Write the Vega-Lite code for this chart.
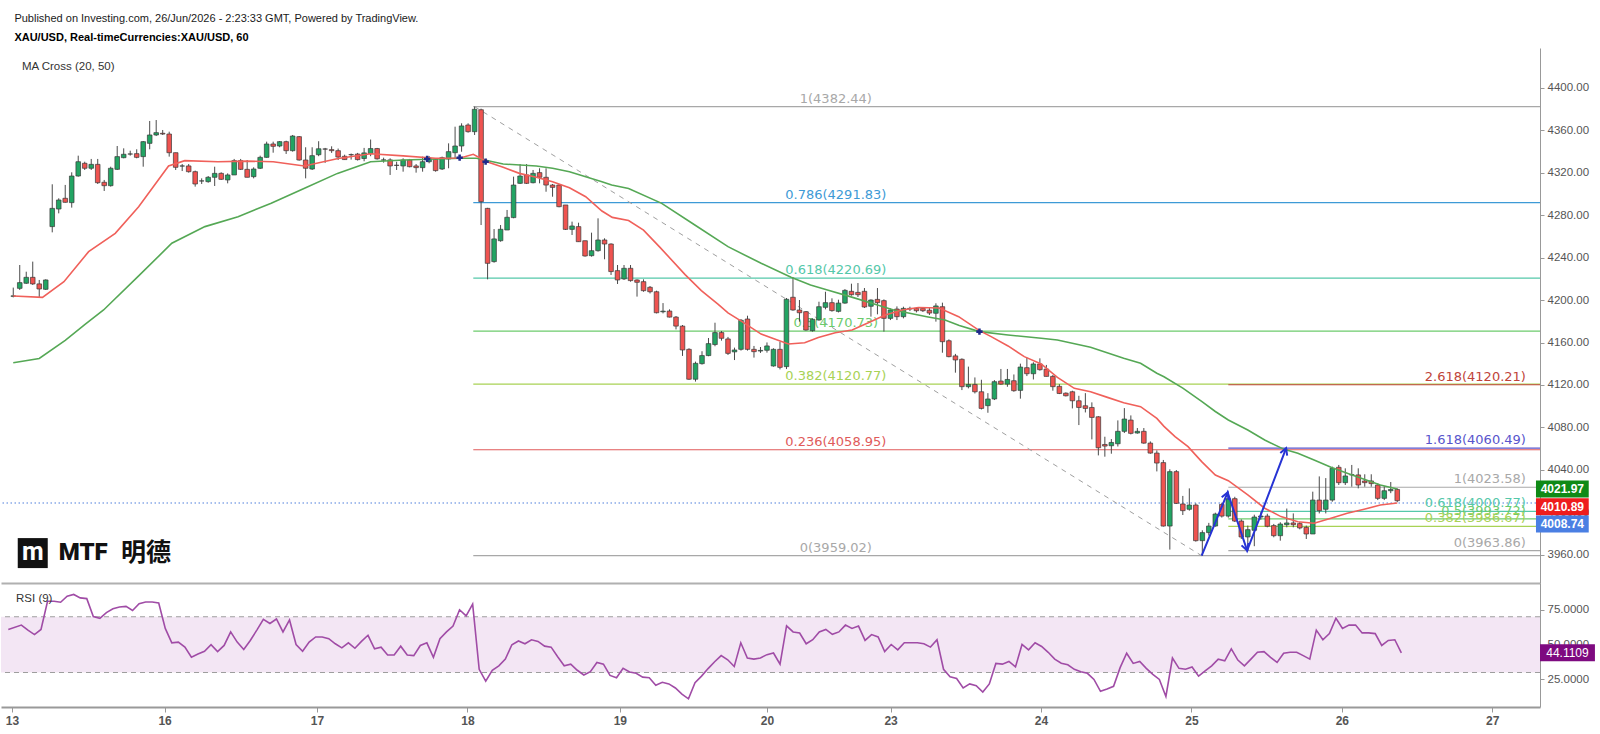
{
"$schema": "https://vega.github.io/schema/vega-lite/v6.json",
"background": "white",
"padding": {"left": 0, "top": 13, "right": 0, "bottom": 0},
"title": {"text": "Published on Investing.com, 26/Jun/2026 - 2:23:33 GMT, Powered by TradingView.", "subtitle": "XAU/USD, Real-timeCurrencies:XAU/USD, 60", "anchor": "start", "frame": "bounds", "dx": 14, "offset": 5, "font": "Liberation Sans", "fontSize": 11, "fontWeight": "normal", "color": "#1a1a1a", "subtitleFont": "Liberation Sans", "subtitleFontSize": 11, "subtitleFontWeight": "bold", "subtitleColor": "#000000", "subtitlePadding": 8},
"spacing": 0,
"resolve": {"scale": {"x": "independent", "y": "independent"}},
"config": {"view": {"stroke": null}, "axis": {"grid": false, "labelFont": "Liberation Sans", "labelFontSize": 11.5, "labelColor": "#555555", "tickColor": "#999999", "domainColor": "#999999", "tickSize": 4, "labelPadding": 3, "labelFlush": false, "labelOverlap": false}},
"datasets": {
"candles": [
{"i":0,"o":4203.6,"h":4211.8,"l":4202.6,"c":4204.0},
{"i":1,"o":4211.1,"h":4233.1,"l":4209.6,"c":4216.5},
{"i":2,"o":4215.9,"h":4226.8,"l":4215.3,"c":4221.5},
{"i":3,"o":4221.5,"h":4236.3,"l":4214.3,"c":4215.3},
{"i":4,"o":4215.3,"h":4219.0,"l":4202.6,"c":4210.5},
{"i":5,"o":4210.2,"h":4219.6,"l":4209.6,"c":4219.0},
{"i":6,"o":4269.3,"h":4309.2,"l":4263.9,"c":4286.5},
{"i":7,"o":4285.9,"h":4296.0,"l":4281.8,"c":4294.4},
{"i":8,"o":4296.0,"h":4308.6,"l":4291.9,"c":4292.2},
{"i":9,"o":4291.9,"h":4320.5,"l":4287.2,"c":4317.0},
{"i":10,"o":4317.0,"h":4336.2,"l":4316.4,"c":4330.5},
{"i":11,"o":4329.0,"h":4330.5,"l":4322.7,"c":4324.3},
{"i":12,"o":4324.3,"h":4333.1,"l":4322.7,"c":4328.0},
{"i":13,"o":4328.0,"h":4333.1,"l":4309.5,"c":4310.7},
{"i":14,"o":4311.1,"h":4313.3,"l":4302.9,"c":4307.9},
{"i":15,"o":4307.9,"h":4325.8,"l":4307.0,"c":4324.3},
{"i":16,"o":4323.3,"h":4345.3,"l":4322.7,"c":4335.3},
{"i":17,"o":4334.3,"h":4343.1,"l":4333.7,"c":4337.5},
{"i":18,"o":4337.7,"h":4340.9,"l":4336.2,"c":4337.8},
{"i":19,"o":4338.1,"h":4342.2,"l":4333.7,"c":4334.6},
{"i":20,"o":4335.3,"h":4350.0,"l":4325.8,"c":4349.4},
{"i":21,"o":4347.8,"h":4368.9,"l":4342.2,"c":4355.7},
{"i":22,"o":4355.7,"h":4369.8,"l":4354.7,"c":4357.9},
{"i":23,"o":4357.3,"h":4360.4,"l":4355.7,"c":4356.6},
{"i":24,"o":4356.6,"h":4358.8,"l":4335.3,"c":4339.0},
{"i":25,"o":4339.0,"h":4339.0,"l":4322.7,"c":4325.2},
{"i":26,"o":4326.4,"h":4328.3,"l":4321.7,"c":4326.5},
{"i":27,"o":4326.5,"h":4328.3,"l":4320.2,"c":4321.1},
{"i":28,"o":4321.1,"h":4322.1,"l":4307.0,"c":4309.5},
{"i":29,"o":4312.3,"h":4314.8,"l":4309.5,"c":4312.4},
{"i":30,"o":4311.7,"h":4317.0,"l":4310.7,"c":4315.8},
{"i":31,"o":4315.8,"h":4325.8,"l":4307.6,"c":4319.5},
{"i":32,"o":4319.5,"h":4320.5,"l":4313.3,"c":4313.9},
{"i":33,"o":4313.3,"h":4319.5,"l":4310.1,"c":4318.0},
{"i":34,"o":4318.0,"h":4333.1,"l":4318.0,"c":4331.5},
{"i":35,"o":4331.5,"h":4333.1,"l":4322.7,"c":4323.3},
{"i":36,"o":4323.3,"h":4332.1,"l":4315.8,"c":4315.8},
{"i":37,"o":4316.4,"h":4325.2,"l":4314.8,"c":4323.6},
{"i":38,"o":4324.3,"h":4336.2,"l":4323.6,"c":4334.6},
{"i":39,"o":4334.6,"h":4349.4,"l":4334.3,"c":4347.2},
{"i":40,"o":4347.2,"h":4349.4,"l":4339.0,"c":4345.0},
{"i":41,"o":4345.3,"h":4350.0,"l":4344.1,"c":4349.4},
{"i":42,"o":4349.4,"h":4350.3,"l":4337.8,"c":4340.9},
{"i":43,"o":4340.9,"h":4355.7,"l":4340.0,"c":4354.7},
{"i":44,"o":4354.1,"h":4354.7,"l":4331.5,"c":4332.1},
{"i":45,"o":4332.1,"h":4344.1,"l":4314.8,"c":4324.3},
{"i":46,"o":4323.6,"h":4344.1,"l":4322.7,"c":4336.2},
{"i":47,"o":4337.1,"h":4349.8,"l":4335.7,"c":4342.7},
{"i":48,"o":4342.5,"h":4343.5,"l":4329.4,"c":4342.4},
{"i":49,"o":4341.9,"h":4345.0,"l":4338.8,"c":4340.9},
{"i":50,"o":4340.9,"h":4342.9,"l":4332.1,"c":4334.9},
{"i":51,"o":4335.6,"h":4337.1,"l":4332.5,"c":4332.5},
{"i":52,"o":4337.0,"h":4338.2,"l":4332.5,"c":4337.2},
{"i":53,"o":4337.7,"h":4338.8,"l":4331.6,"c":4332.5},
{"i":54,"o":4333.5,"h":4343.5,"l":4330.9,"c":4338.8},
{"i":55,"o":4338.2,"h":4351.4,"l":4335.7,"c":4342.9},
{"i":56,"o":4342.9,"h":4343.5,"l":4332.5,"c":4333.2},
{"i":57,"o":4332.0,"h":4334.3,"l":4329.6,"c":4332.2},
{"i":58,"o":4332.2,"h":4333.7,"l":4318.0,"c":4326.5},
{"i":59,"o":4327.2,"h":4330.5,"l":4322.7,"c":4327.0},
{"i":60,"o":4326.5,"h":4333.7,"l":4321.1,"c":4332.1},
{"i":61,"o":4332.1,"h":4333.1,"l":4325.2,"c":4325.8},
{"i":62,"o":4326.5,"h":4328.3,"l":4320.2,"c":4324.9},
{"i":63,"o":4324.9,"h":4335.3,"l":4321.1,"c":4330.5},
{"i":64,"o":4330.5,"h":4335.9,"l":4329.0,"c":4333.7},
{"i":65,"o":4332.7,"h":4333.7,"l":4321.1,"c":4322.1},
{"i":66,"o":4323.6,"h":4335.3,"l":4322.7,"c":4334.3},
{"i":67,"o":4333.1,"h":4347.8,"l":4324.3,"c":4340.0},
{"i":68,"o":4339.0,"h":4363.5,"l":4333.7,"c":4345.3},
{"i":69,"o":4345.3,"h":4366.7,"l":4339.9,"c":4364.2},
{"i":70,"o":4365.1,"h":4366.7,"l":4357.9,"c":4358.8},
{"i":71,"o":4358.8,"h":4382.44,"l":4355.7,"c":4379.9},
{"i":72,"o":4379.5,"h":4380.5,"l":4270.8,"c":4292.8},
{"i":73,"o":4286.5,"h":4287.0,"l":4219.6,"c":4234.7},
{"i":74,"o":4236.3,"h":4267.0,"l":4235.3,"c":4257.7},
{"i":75,"o":4256.0,"h":4270.8,"l":4255.1,"c":4266.8},
{"i":76,"o":4266.1,"h":4285.0,"l":4266.1,"c":4278.1},
{"i":77,"o":4277.8,"h":4316.4,"l":4277.2,"c":4308.5},
{"i":78,"o":4310.1,"h":4328.3,"l":4309.5,"c":4317.0},
{"i":79,"o":4318.0,"h":4328.3,"l":4309.5,"c":4310.1},
{"i":80,"o":4310.7,"h":4322.7,"l":4310.1,"c":4319.5},
{"i":81,"o":4320.2,"h":4324.3,"l":4310.1,"c":4315.8},
{"i":82,"o":4315.8,"h":4324.3,"l":4302.2,"c":4308.5},
{"i":83,"o":4308.5,"h":4309.5,"l":4297.5,"c":4306.3},
{"i":84,"o":4308.5,"h":4309.5,"l":4287.5,"c":4288.1},
{"i":85,"o":4289.7,"h":4289.7,"l":4266.1,"c":4266.7},
{"i":86,"o":4266.7,"h":4274.0,"l":4261.4,"c":4269.9},
{"i":87,"o":4269.3,"h":4273.0,"l":4255.1,"c":4255.1},
{"i":88,"o":4256.0,"h":4256.0,"l":4241.0,"c":4241.6},
{"i":89,"o":4241.9,"h":4263.6,"l":4241.0,"c":4246.6},
{"i":90,"o":4246.6,"h":4277.1,"l":4245.7,"c":4256.7},
{"i":91,"o":4256.7,"h":4258.3,"l":4238.5,"c":4252.9},
{"i":92,"o":4252.9,"h":4253.5,"l":4223.7,"c":4226.9},
{"i":93,"o":4227.8,"h":4233.1,"l":4215.2,"c":4219.0},
{"i":94,"o":4220.0,"h":4233.1,"l":4219.0,"c":4230.0},
{"i":95,"o":4230.0,"h":4233.1,"l":4217.4,"c":4218.4},
{"i":96,"o":4219.0,"h":4219.6,"l":4203.3,"c":4216.8},
{"i":97,"o":4217.4,"h":4219.6,"l":4207.9,"c":4208.9},
{"i":98,"o":4212.1,"h":4213.3,"l":4206.3,"c":4207.9},
{"i":99,"o":4207.9,"h":4208.9,"l":4187.5,"c":4188.1},
{"i":100,"o":4189.0,"h":4197.2,"l":4187.5,"c":4189.6},
{"i":101,"o":4189.7,"h":4191.3,"l":4183.7,"c":4184.0},
{"i":102,"o":4184.0,"h":4185.0,"l":4172.4,"c":4175.5},
{"i":103,"o":4175.5,"h":4176.5,"l":4147.4,"c":4153.0},
{"i":104,"o":4153.6,"h":4154.6,"l":4124.8,"c":4125.4},
{"i":105,"o":4125.4,"h":4142.0,"l":4123.2,"c":4140.4},
{"i":106,"o":4140.1,"h":4151.8,"l":4139.2,"c":4147.7},
{"i":107,"o":4147.7,"h":4164.3,"l":4147.1,"c":4159.0},
{"i":108,"o":4158.1,"h":4178.7,"l":4156.5,"c":4169.4},
{"i":109,"o":4169.4,"h":4170.9,"l":4161.8,"c":4164.0},
{"i":110,"o":4163.4,"h":4165.3,"l":4148.3,"c":4149.8},
{"i":111,"o":4151.2,"h":4155.2,"l":4143.5,"c":4153.0},
{"i":112,"o":4153.6,"h":4182.2,"l":4152.4,"c":4181.0},
{"i":113,"o":4182.2,"h":4185.3,"l":4152.4,"c":4153.6},
{"i":114,"o":4153.6,"h":4156.8,"l":4145.8,"c":4151.4},
{"i":115,"o":4152.0,"h":4155.8,"l":4150.2,"c":4152.6},
{"i":116,"o":4152.7,"h":4160.1,"l":4150.5,"c":4156.8},
{"i":117,"o":4137.9,"h":4154.6,"l":4137.3,"c":4153.6},
{"i":118,"o":4153.6,"h":4160.8,"l":4134.7,"c":4136.6},
{"i":119,"o":4137.3,"h":4202.0,"l":4135.0,"c":4200.8},
{"i":120,"o":4202.7,"h":4221.5,"l":4190.0,"c":4190.7},
{"i":121,"o":4190.7,"h":4200.1,"l":4179.7,"c":4188.1},
{"i":122,"o":4189.1,"h":4189.7,"l":4171.2,"c":4171.8},
{"i":123,"o":4171.2,"h":4182.8,"l":4170.3,"c":4181.9},
{"i":124,"o":4181.3,"h":4198.5,"l":4180.6,"c":4193.8},
{"i":125,"o":4193.2,"h":4207.9,"l":4191.3,"c":4197.6},
{"i":126,"o":4197.6,"h":4201.7,"l":4189.1,"c":4190.1},
{"i":127,"o":4189.4,"h":4200.4,"l":4188.4,"c":4197.2},
{"i":128,"o":4197.2,"h":4210.4,"l":4196.6,"c":4209.2},
{"i":129,"o":4208.3,"h":4215.5,"l":4204.2,"c":4205.1},
{"i":130,"o":4207.3,"h":4216.1,"l":4202.9,"c":4205.1},
{"i":131,"o":4208.3,"h":4211.4,"l":4192.6,"c":4193.5},
{"i":132,"o":4194.2,"h":4200.7,"l":4184.4,"c":4200.1},
{"i":133,"o":4200.7,"h":4211.4,"l":4186.6,"c":4197.6},
{"i":134,"o":4199.5,"h":4200.7,"l":4170.3,"c":4182.8},
{"i":135,"o":4182.8,"h":4192.2,"l":4181.2,"c":4190.7},
{"i":136,"o":4191.6,"h":4194.1,"l":4181.2,"c":4184.4},
{"i":137,"o":4184.4,"h":4193.8,"l":4182.8,"c":4192.2},
{"i":138,"o":4191.6,"h":4193.8,"l":4189.7,"c":4192.2},
{"i":139,"o":4192.2,"h":4193.2,"l":4188.4,"c":4190.0},
{"i":140,"o":4192.2,"h":4193.5,"l":4188.8,"c":4190.0},
{"i":141,"o":4190.5,"h":4193.0,"l":4186.0,"c":4187.8},
{"i":142,"o":4187.6,"h":4197.0,"l":4179.7,"c":4194.5},
{"i":143,"o":4193.8,"h":4197.6,"l":4150.4,"c":4160.8},
{"i":144,"o":4161.7,"h":4163.0,"l":4146.1,"c":4146.7},
{"i":145,"o":4147.4,"h":4149.3,"l":4131.6,"c":4143.6},
{"i":146,"o":4144.2,"h":4145.1,"l":4115.2,"c":4118.4},
{"i":147,"o":4118.4,"h":4137.3,"l":4116.8,"c":4120.5},
{"i":148,"o":4120.5,"h":4127.1,"l":4112.0,"c":4113.6},
{"i":149,"o":4113.6,"h":4124.9,"l":4096.9,"c":4097.9},
{"i":150,"o":4100.5,"h":4112.3,"l":4093.8,"c":4106.8},
{"i":151,"o":4106.8,"h":4124.6,"l":4105.8,"c":4123.1},
{"i":152,"o":4123.7,"h":4135.1,"l":4120.2,"c":4120.8},
{"i":153,"o":4120.8,"h":4135.1,"l":4118.3,"c":4125.2},
{"i":154,"o":4124.0,"h":4129.9,"l":4113.6,"c":4114.6},
{"i":155,"o":4114.9,"h":4140.1,"l":4107.1,"c":4136.9},
{"i":156,"o":4136.3,"h":4145.8,"l":4128.4,"c":4130.6},
{"i":157,"o":4130.6,"h":4141.4,"l":4125.2,"c":4139.8},
{"i":158,"o":4139.8,"h":4145.1,"l":4133.5,"c":4134.4},
{"i":159,"o":4135.0,"h":4138.9,"l":4128.1,"c":4128.1},
{"i":160,"o":4128.1,"h":4129.4,"l":4114.6,"c":4118.4},
{"i":161,"o":4118.7,"h":4120.8,"l":4111.4,"c":4112.0},
{"i":162,"o":4112.3,"h":4113.0,"l":4109.2,"c":4109.8},
{"i":163,"o":4113.6,"h":4114.6,"l":4097.9,"c":4105.1},
{"i":164,"o":4105.1,"h":4109.8,"l":4082.2,"c":4098.8},
{"i":165,"o":4100.4,"h":4112.3,"l":4094.1,"c":4097.9},
{"i":166,"o":4098.8,"h":4103.6,"l":4068.7,"c":4089.4},
{"i":167,"o":4090.0,"h":4090.6,"l":4053.6,"c":4060.8},
{"i":168,"o":4063.9,"h":4071.2,"l":4052.4,"c":4062.4},
{"i":169,"o":4062.7,"h":4069.0,"l":4055.2,"c":4065.8},
{"i":170,"o":4064.6,"h":4086.6,"l":4062.0,"c":4076.3},
{"i":171,"o":4076.3,"h":4098.2,"l":4074.7,"c":4087.9},
{"i":172,"o":4086.9,"h":4091.3,"l":4073.4,"c":4074.4},
{"i":173,"o":4074.7,"h":4079.4,"l":4074.1,"c":4076.3},
{"i":174,"o":4076.3,"h":4079.4,"l":4064.6,"c":4065.2},
{"i":175,"o":4065.2,"h":4066.8,"l":4055.2,"c":4055.8},
{"i":176,"o":4055.8,"h":4058.3,"l":4038.5,"c":4046.4},
{"i":177,"o":4046.8,"h":4049.3,"l":3986.5,"c":3987.0},
{"i":178,"o":3987.0,"h":4040.5,"l":3964.8,"c":4038.3},
{"i":179,"o":4038.3,"h":4039.8,"l":4007.8,"c":4008.4},
{"i":180,"o":4007.8,"h":4015.4,"l":3997.4,"c":4001.5},
{"i":181,"o":4002.8,"h":4022.5,"l":4001.5,"c":4006.8},
{"i":182,"o":4006.8,"h":4008.4,"l":3972.3,"c":3973.2},
{"i":183,"o":3973.2,"h":3983.0,"l":3959.02,"c":3980.8},
{"i":184,"o":3980.8,"h":3990.0,"l":3978.0,"c":3987.0},
{"i":185,"o":3987.0,"h":3999.6,"l":3986.4,"c":3998.3},
{"i":186,"o":4007.4,"h":4009.0,"l":3995.0,"c":3996.4},
{"i":187,"o":3996.4,"h":4018.74,"l":3994.9,"c":4012.8},
{"i":188,"o":4012.8,"h":4014.6,"l":3990.8,"c":3991.7},
{"i":189,"o":3991.7,"h":3993.3,"l":3974.8,"c":3976.7},
{"i":190,"o":3976.7,"h":3987.4,"l":3963.86,"c":3983.6},
{"i":191,"o":3983.0,"h":3997.7,"l":3968.0,"c":3995.5},
{"i":192,"o":3995.5,"h":4000.0,"l":3993.0,"c":3996.4},
{"i":193,"o":3996.4,"h":3998.6,"l":3985.8,"c":3986.8},
{"i":194,"o":3987.4,"h":3989.0,"l":3976.4,"c":3977.9},
{"i":195,"o":3977.9,"h":3990.6,"l":3973.2,"c":3988.9},
{"i":196,"o":3988.3,"h":4003.5,"l":3985.8,"c":3989.9},
{"i":197,"o":3989.9,"h":3998.9,"l":3985.8,"c":3988.3},
{"i":198,"o":3989.3,"h":3990.8,"l":3983.9,"c":3985.2},
{"i":199,"o":3985.8,"h":3987.4,"l":3974.8,"c":3979.5},
{"i":200,"o":3979.5,"h":4019.4,"l":3979.5,"c":4011.5},
{"i":201,"o":4011.5,"h":4033.8,"l":3998.9,"c":4001.5},
{"i":202,"o":4002.8,"h":4032.2,"l":3998.9,"c":4011.5},
{"i":203,"o":4011.5,"h":4043.0,"l":4009.9,"c":4041.4},
{"i":204,"o":4042.4,"h":4044.6,"l":4025.7,"c":4027.9},
{"i":205,"o":4027.9,"h":4041.4,"l":4025.7,"c":4034.2},
{"i":206,"o":4035.2,"h":4044.6,"l":4024.1,"c":4035.5},
{"i":207,"o":4035.2,"h":4041.4,"l":4022.5,"c":4025.7},
{"i":208,"o":4029.5,"h":4035.8,"l":4024.1,"c":4027.9},
{"i":209,"o":4029.5,"h":4035.8,"l":4024.1,"c":4027.0},
{"i":210,"o":4025.7,"h":4027.3,"l":4011.5,"c":4013.1},
{"i":211,"o":4013.1,"h":4024.7,"l":4011.5,"c":4020.3},
{"i":212,"o":4020.3,"h":4028.5,"l":4018.0,"c":4021.5},
{"i":213,"o":4021.5,"h":4022.5,"l":4009.5,"c":4010.89}
],
"ma20": [
{"i":0,"p":4203.9},{"i":4.5,"p":4202.6},{"i":7.8,"p":4217.4},{"i":11.6,"p":4245.7},{"i":15.7,"p":4263.0},{"i":19.3,"p":4288.1},{"i":23.9,"p":4326.5},{"i":26.4,"p":4331.5},{"i":31.5,"p":4330.5},{"i":36,"p":4331.0},{"i":40,"p":4330.5},{"i":44.8,"p":4326.5},{"i":50,"p":4333.5},{"i":55,"p":4338.0},{"i":60,"p":4336.0},{"i":65,"p":4333.7},{"i":68.8,"p":4334.0},{"i":70.8,"p":4337.5},{"i":72.9,"p":4330.5},{"i":75.4,"p":4325.2},{"i":77.9,"p":4319.5},{"i":80.5,"p":4315.8},{"i":83,"p":4311.7},{"i":85.6,"p":4306.0},{"i":88.1,"p":4297.5},{"i":90.6,"p":4284.0},{"i":92.2,"p":4278.0},{"i":94.7,"p":4275.0},{"i":97,"p":4266.0},{"i":99.5,"p":4250.0},{"i":103.4,"p":4224.0},{"i":105.9,"p":4209.0},{"i":108.5,"p":4196.0},{"i":110,"p":4188.0},{"i":112.1,"p":4180.0},{"i":115.1,"p":4168.0},{"i":117.6,"p":4162.4},{"i":119.3,"p":4158.6},{"i":121.8,"p":4159.8},{"i":123.9,"p":4164.8},{"i":126.5,"p":4169.2},{"i":129.1,"p":4171.8},{"i":131.6,"p":4178.7},{"i":134.2,"p":4185.9},{"i":136.8,"p":4190.7},{"i":139.3,"p":4193.0},{"i":142.5,"p":4192.5},{"i":145.5,"p":4184.4},{"i":148.7,"p":4171.2},{"i":150.5,"p":4165.6},{"i":153.1,"p":4156.8},{"i":155.6,"p":4146.7},{"i":158.2,"p":4139.8},{"i":160.7,"p":4127.1},{"i":163.3,"p":4116.8},{"i":165.8,"p":4113.6},{"i":168.4,"p":4108.3},{"i":170.9,"p":4103.3},{"i":173.5,"p":4099.5},{"i":176,"p":4088.5},{"i":177.1,"p":4081.0},{"i":178.8,"p":4071.3},{"i":180.8,"p":4061.9},{"i":182.9,"p":4047.7},{"i":185,"p":4035.1},{"i":187,"p":4029.8},{"i":190,"p":4016.3},{"i":192.6,"p":4003.8},{"i":195.1,"p":3995.9},{"i":197.7,"p":3991.1},{"i":200.2,"p":3989.6},{"i":202.8,"p":3994.3},{"i":205.3,"p":3999.0},{"i":207.9,"p":4002.8},{"i":210.4,"p":4006.8},{"i":213,"p":4008.74}
],
"ma50": [
{"i":0,"p":4141.0},{"i":4,"p":4145.0},{"i":8,"p":4162.0},{"i":11,"p":4177.0},{"i":13.9,"p":4190.7},{"i":19.3,"p":4222.8},{"i":24.4,"p":4253.6},{"i":29.5,"p":4269.3},{"i":34.6,"p":4278.7},{"i":39.7,"p":4291.3},{"i":45,"p":4306.0},{"i":49.9,"p":4319.5},{"i":55,"p":4330.5},{"i":60.1,"p":4332.1},{"i":65.2,"p":4333.0},{"i":68.8,"p":4333.7},{"i":71.3,"p":4333.7},{"i":75.4,"p":4328.3},{"i":80.5,"p":4326.5},{"i":83,"p":4324.3},{"i":85.6,"p":4321.1},{"i":88.1,"p":4316.4},{"i":90.6,"p":4311.7},{"i":92.1,"p":4308.5},{"i":94.7,"p":4305.3},{"i":99.8,"p":4291.2},{"i":104.9,"p":4270.8},{"i":110,"p":4250.4},{"i":115.1,"p":4234.7},{"i":119.7,"p":4221.5},{"i":122.7,"p":4214.3},{"i":125.3,"p":4209.6},{"i":128.8,"p":4203.3},{"i":133,"p":4195.4},{"i":135.5,"p":4190.7},{"i":140.6,"p":4184.4},{"i":143.4,"p":4181.3},{"i":145.6,"p":4176.0},{"i":148.7,"p":4170.3},{"i":153.1,"p":4167.1},{"i":158.2,"p":4164.0},{"i":160.7,"p":4162.4},{"i":165.8,"p":4155.5},{"i":170.9,"p":4145.1},{"i":173.5,"p":4140.4},{"i":176,"p":4131.0},{"i":177.1,"p":4127.8},{"i":180,"p":4117.0},{"i":183,"p":4104.0},{"i":185,"p":4095.0},{"i":187,"p":4087.0},{"i":190,"p":4077.6},{"i":192.6,"p":4068.1},{"i":195.6,"p":4059.3},{"i":197.7,"p":4055.6},{"i":200.2,"p":4049.3},{"i":202.8,"p":4042.4},{"i":205.3,"p":4036.7},{"i":207.9,"p":4031.1},{"i":210.4,"p":4025.7},{"i":213,"p":4021.97}
],
"rsi": [
{"i":0,"r":60.9},{"i":2,"r":64.0},{"i":3,"r":60.4},{"i":4,"r":57.2},{"i":5,"r":60.9},{"i":6,"r":81.1},{"i":7,"r":81.1},{"i":8,"r":80.4},{"i":9,"r":84.8},{"i":10,"r":86.0},{"i":11,"r":83.5},{"i":12,"r":83.0},{"i":13,"r":70.1},{"i":14,"r":68.9},{"i":15,"r":73.0},{"i":16,"r":75.7},{"i":17,"r":77.0},{"i":18,"r":77.4},{"i":19,"r":74.5},{"i":20,"r":79.4},{"i":21,"r":80.6},{"i":22,"r":80.6},{"i":23,"r":79.9},{"i":24,"r":61.6},{"i":25,"r":51.3},{"i":26,"r":51.8},{"i":27,"r":48.2},{"i":28,"r":40.9},{"i":29,"r":43.3},{"i":30,"r":45.2},{"i":31,"r":49.9},{"i":32,"r":45.0},{"i":33,"r":49.4},{"i":34,"r":59.1},{"i":35,"r":51.8},{"i":36,"r":46.5},{"i":37,"r":53.0},{"i":38,"r":60.4},{"i":39,"r":68.2},{"i":40,"r":65.2},{"i":41,"r":68.4},{"i":42,"r":59.1},{"i":43,"r":67.7},{"i":44,"r":50.1},{"i":45,"r":45.2},{"i":46,"r":51.8},{"i":47,"r":55.5},{"i":48,"r":55.5},{"i":49,"r":54.3},{"i":50,"r":50.6},{"i":51,"r":47.7},{"i":52,"r":51.3},{"i":53,"r":47.4},{"i":54,"r":52.3},{"i":55,"r":56.7},{"i":56,"r":47.0},{"i":57,"r":48.2},{"i":58,"r":42.6},{"i":59,"r":42.6},{"i":60,"r":48.9},{"i":61,"r":42.6},{"i":62,"r":42.1},{"i":63,"r":49.4},{"i":64,"r":51.3},{"i":65,"r":40.9},{"i":66,"r":54.3},{"i":67,"r":59.1},{"i":68,"r":63.3},{"i":69,"r":75.0},{"i":70,"r":70.6},{"i":71,"r":79.1},{"i":72,"r":32.3},{"i":73,"r":23.8},{"i":74,"r":31.6},{"i":75,"r":34.8},{"i":76,"r":39.6},{"i":77,"r":49.9},{"i":78,"r":52.6},{"i":79,"r":50.6},{"i":80,"r":53.5},{"i":81,"r":52.3},{"i":82,"r":48.9},{"i":83,"r":48.2},{"i":84,"r":41.3},{"i":85,"r":34.8},{"i":86,"r":36.0},{"i":87,"r":31.6},{"i":88,"r":28.2},{"i":89,"r":30.6},{"i":90,"r":37.2},{"i":91,"r":36.0},{"i":92,"r":27.9},{"i":93,"r":26.2},{"i":94,"r":33.0},{"i":95,"r":30.4},{"i":96,"r":29.4},{"i":97,"r":26.7},{"i":98,"r":26.2},{"i":99,"r":20.9},{"i":100,"r":23.0},{"i":101,"r":21.8},{"i":102,"r":18.9},{"i":103,"r":14.5},{"i":104,"r":11.1},{"i":105,"r":22.6},{"i":106,"r":27.4},{"i":107,"r":32.8},{"i":108,"r":37.7},{"i":109,"r":42.1},{"i":110,"r":39.1},{"i":111,"r":34.3},{"i":112,"r":51.3},{"i":113,"r":40.4},{"i":114,"r":39.6},{"i":115,"r":40.4},{"i":116,"r":42.8},{"i":117,"r":44.0},{"i":118,"r":36.0},{"i":119,"r":63.5},{"i":120,"r":59.1},{"i":121,"r":58.3},{"i":122,"r":50.6},{"i":123,"r":53.5},{"i":124,"r":59.1},{"i":125,"r":60.9},{"i":126,"r":57.4},{"i":127,"r":59.1},{"i":128,"r":64.0},{"i":129,"r":61.6},{"i":130,"r":63.3},{"i":131,"r":53.0},{"i":132,"r":57.2},{"i":133,"r":55.5},{"i":134,"r":45.0},{"i":135,"r":50.1},{"i":136,"r":46.2},{"i":137,"r":51.3},{"i":138,"r":51.3},{"i":139,"r":51.3},{"i":140,"r":50.6},{"i":141,"r":48.2},{"i":142,"r":53.5},{"i":143,"r":32.3},{"i":144,"r":27.0},{"i":145,"r":25.7},{"i":146,"r":18.9},{"i":147,"r":21.8},{"i":148,"r":20.6},{"i":149,"r":16.0},{"i":150,"r":21.8},{"i":151,"r":36.5},{"i":152,"r":36.0},{"i":153,"r":37.9},{"i":154,"r":34.0},{"i":155,"r":50.1},{"i":156,"r":46.2},{"i":157,"r":51.3},{"i":158,"r":48.7},{"i":159,"r":44.5},{"i":160,"r":39.6},{"i":161,"r":36.7},{"i":162,"r":35.5},{"i":163,"r":32.3},{"i":164,"r":30.6},{"i":165,"r":29.4},{"i":166,"r":25.0},{"i":167,"r":16.5},{"i":168,"r":18.2},{"i":169,"r":20.1},{"i":170,"r":33.5},{"i":171,"r":43.8},{"i":172,"r":36.5},{"i":173,"r":37.9},{"i":174,"r":33.0},{"i":175,"r":28.7},{"i":176,"r":25.0},{"i":177,"r":12.8},{"i":178,"r":40.4},{"i":179,"r":33.0},{"i":180,"r":32.3},{"i":181,"r":34.0},{"i":182,"r":27.4},{"i":183,"r":31.1},{"i":184,"r":34.8},{"i":185,"r":39.6},{"i":186,"r":38.4},{"i":187,"r":47.0},{"i":188,"r":38.9},{"i":189,"r":34.8},{"i":190,"r":39.6},{"i":191,"r":44.5},{"i":192,"r":45.0},{"i":193,"r":40.9},{"i":194,"r":37.2},{"i":195,"r":43.8},{"i":196,"r":44.5},{"i":197,"r":44.5},{"i":198,"r":42.1},{"i":199,"r":39.6},{"i":200,"r":60.4},{"i":201,"r":53.5},{"i":202,"r":57.9},{"i":203,"r":68.9},{"i":204,"r":61.6},{"i":205,"r":64.0},{"i":206,"r":64.0},{"i":207,"r":58.4},{"i":208,"r":58.4},{"i":209,"r":57.9},{"i":210,"r":49.4},{"i":211,"r":53.0},{"i":212,"r":53.5},{"i":213,"r":44.1109}
],
"fib": [
{"set":1,"lv":"1","i":70.8,"p":4382.44,"t":"1(4382.44)"},
{"set":1,"lv":"0.786","i":70.8,"p":4291.83,"t":"0.786(4291.83)"},
{"set":1,"lv":"0.618","i":70.8,"p":4220.69,"t":"0.618(4220.69)"},
{"set":1,"lv":"0.5","i":70.8,"p":4170.73,"t":"0.5(4170.73)"},
{"set":1,"lv":"0.382","i":70.8,"p":4120.77,"t":"0.382(4120.77)"},
{"set":1,"lv":"0.236","i":70.8,"p":4058.95,"t":"0.236(4058.95)"},
{"set":1,"lv":"0","i":70.8,"p":3959.02,"t":"0(3959.02)"},
{"set":2,"lv":"2.618","i":187,"p":4120.21,"t":"2.618(4120.21)"},
{"set":2,"lv":"1.618","i":187,"p":4060.49,"t":"1.618(4060.49)"},
{"set":2,"lv":"1","i":187,"p":4023.58,"t":"1(4023.58)"},
{"set":2,"lv":"0.618","i":187,"p":4000.77,"t":"0.618(4000.77)"},
{"set":2,"lv":"0.5","i":187,"p":3993.72,"t":"0.5(3993.72)"},
{"set":2,"lv":"0.382","i":187,"p":3986.67,"t":"0.382(3986.67)"},
{"set":2,"lv":"0","i":187,"p":3963.86,"t":"0(3963.86)"}
],
"trend": [{"i":71.0,"p":4382.44},{"i":182.9,"p":3959.02}],
"zigzag": [{"i":182.9,"p":3959.02},{"i":186.9,"p":4018.74},{"i":189.9,"p":3963.86},{"i":195.9,"p":4060.49}],
"crosses": [{"i":63.7,"p":4333.1},{"i":68.7,"p":4334.3},{"i":72.7,"p":4330.5},{"i":148.7,"p":4170.3}],
"badges": [{"name":"ma50","p":4021.97},{"name":"last","p":4010.89},{"name":"ma20","p":4008.74}],
"one": [{"k":1}]
},
"vconcat": [
{
"width": 1539, "height": 535,
"layer": [
{"data": {"name": "fib"}, "mark": {"type": "rule", "strokeWidth": 1.2},
 "encoding": {
  "x": {"field": "i", "type": "quantitative", "scale": {"domain": [-1.116, 234.2], "nice": false, "zero": false}, "axis": {"labels": false, "ticks": false, "domainColor": "#b0b0b0", "domainWidth": 2, "title": null}},
  "x2": {"value": "width"},
  "y": {"field": "p", "type": "quantitative", "scale": {"domain": [3933.3, 4437.7], "nice": false, "zero": false}, "axis": {"orient": "right", "values": [3960,4000,4040,4080,4120,4160,4200,4240,4280,4320,4360,4400], "format": ".2f", "title": null}},
  "color": {"field": "lv", "type": "nominal", "legend": null, "scale": {"domain": ["1","0.786","0.618","0.5","0.382","0.236","0","1.618","2.618"], "range": ["#a8a8a8","#3d9ad6","#55c8aa","#6ccb6c","#a8d255","#e05a5a","#a8a8a8","#5855cc","#c0443a"]}}
 }},
{"data": {"name": "badges"}, "transform": [{"filter": "datum.name == 'ma20'"}], "mark": {"type": "rule", "strokeDash": [1.5, 2.5], "color": "#4f7fdc", "strokeWidth": 1.2},
 "encoding": {"y": {"field": "p", "type": "quantitative", "scale": {"domain": [3933.3, 4437.7], "nice": false, "zero": false}}}},
{"data": {"name": "trend"}, "mark": {"type": "line", "strokeDash": [5, 5], "color": "#a0a0a0", "strokeWidth": 1},
 "encoding": {
  "x": {"field": "i", "type": "quantitative", "scale": {"domain": [-1.116, 234.2], "nice": false, "zero": false}},
  "y": {"field": "p", "type": "quantitative", "scale": {"domain": [3933.3, 4437.7], "nice": false, "zero": false}}
 }},
{"data": {"name": "fib"}, "transform": [{"filter": "datum.set == 1"}],
 "mark": {"type": "text", "font": "DejaVu Sans", "fontSize": 13, "align": "center", "baseline": "bottom", "dy": -1},
 "encoding": {
  "x": {"datum": 126.6, "type": "quantitative", "scale": {"domain": [-1.116, 234.2], "nice": false, "zero": false}},
  "y": {"field": "p", "type": "quantitative", "scale": {"domain": [3933.3, 4437.7], "nice": false, "zero": false}},
  "text": {"field": "t"},
  "color": {"field": "lv", "type": "nominal", "legend": null, "scale": {"domain": ["1","0.786","0.618","0.5","0.382","0.236","0","1.618","2.618"], "range": ["#a8a8a8","#3d9ad6","#55c8aa","#6ccb6c","#a8d255","#e05a5a","#a8a8a8","#5855cc","#c0443a"]}}
 }},
{"data": {"name": "fib"}, "transform": [{"filter": "datum.set == 2"}],
 "mark": {"type": "text", "font": "DejaVu Sans", "fontSize": 13, "align": "right", "baseline": "bottom", "dy": -1},
 "encoding": {
  "x": {"datum": 232.8, "type": "quantitative", "scale": {"domain": [-1.116, 234.2], "nice": false, "zero": false}},
  "y": {"field": "p", "type": "quantitative", "scale": {"domain": [3933.3, 4437.7], "nice": false, "zero": false}},
  "text": {"field": "t"},
  "color": {"field": "lv", "type": "nominal", "legend": null, "scale": {"domain": ["1","0.786","0.618","0.5","0.382","0.236","0","1.618","2.618"], "range": ["#a8a8a8","#3d9ad6","#55c8aa","#6ccb6c","#a8d255","#e05a5a","#a8a8a8","#5855cc","#c0443a"]}}
 }},
{"data": {"name": "candles"}, "mark": {"type": "rule", "color": "#4a4a4a", "strokeWidth": 1},
 "encoding": {
  "x": {"field": "i", "type": "quantitative", "scale": {"domain": [-1.116, 234.2], "nice": false, "zero": false}},
  "y": {"field": "l", "type": "quantitative", "scale": {"domain": [3933.3, 4437.7], "nice": false, "zero": false}},
  "y2": {"field": "h"}
 }},
{"data": {"name": "candles"}, "mark": {"type": "bar", "width": 4.6, "stroke": "#3a3a3a", "strokeWidth": 0.7},
 "encoding": {
  "x": {"field": "i", "type": "quantitative", "scale": {"domain": [-1.116, 234.2], "nice": false, "zero": false}},
  "y": {"field": "o", "type": "quantitative", "scale": {"domain": [3933.3, 4437.7], "nice": false, "zero": false}},
  "y2": {"field": "c"},
  "color": {"condition": {"test": "datum.c >= datum.o", "value": "#22a463"}, "value": "#ef5350"}
 }},
{"data": {"name": "ma50"}, "mark": {"type": "line", "color": "#55a855", "strokeWidth": 1.6},
 "encoding": {
  "x": {"field": "i", "type": "quantitative", "scale": {"domain": [-1.116, 234.2], "nice": false, "zero": false}},
  "y": {"field": "p", "type": "quantitative", "scale": {"domain": [3933.3, 4437.7], "nice": false, "zero": false}}
 }},
{"data": {"name": "ma20"}, "mark": {"type": "line", "color": "#f0605a", "strokeWidth": 1.6},
 "encoding": {
  "x": {"field": "i", "type": "quantitative", "scale": {"domain": [-1.116, 234.2], "nice": false, "zero": false}},
  "y": {"field": "p", "type": "quantitative", "scale": {"domain": [3933.3, 4437.7], "nice": false, "zero": false}}
 }},
{"data": {"name": "zigzag"}, "mark": {"type": "line", "color": "#2633d4", "strokeWidth": 2},
 "encoding": {
  "x": {"field": "i", "type": "quantitative", "scale": {"domain": [-1.116, 234.2], "nice": false, "zero": false}},
  "y": {"field": "p", "type": "quantitative", "scale": {"domain": [3933.3, 4437.7], "nice": false, "zero": false}}
 }},
{"data": {"name": "one"}, "mark": {"type": "point", "shape": "M-0.6,1.1L0,0L0.6,1.1", "angle": 22.5, "size": 150, "filled": false, "stroke": "#2633d4", "strokeWidth": 2, "opacity": 1},
 "encoding": {"x": {"datum": 186.9, "type": "quantitative", "scale": {"domain": [-1.116, 234.2], "nice": false, "zero": false}}, "y": {"datum": 4018.74, "type": "quantitative", "scale": {"domain": [3933.3, 4437.7], "nice": false, "zero": false}}}},
{"data": {"name": "one"}, "mark": {"type": "point", "shape": "M-0.6,1.1L0,0L0.6,1.1", "angle": 161.4, "size": 150, "filled": false, "stroke": "#2633d4", "strokeWidth": 2, "opacity": 1},
 "encoding": {"x": {"datum": 189.9, "type": "quantitative", "scale": {"domain": [-1.116, 234.2], "nice": false, "zero": false}}, "y": {"datum": 3963.86, "type": "quantitative", "scale": {"domain": [3933.3, 4437.7], "nice": false, "zero": false}}}},
{"data": {"name": "one"}, "mark": {"type": "point", "shape": "M-0.6,1.1L0,0L0.6,1.1", "angle": 20.9, "size": 150, "filled": false, "stroke": "#2633d4", "strokeWidth": 2, "opacity": 1},
 "encoding": {"x": {"datum": 195.9, "type": "quantitative", "scale": {"domain": [-1.116, 234.2], "nice": false, "zero": false}}, "y": {"datum": 4060.49, "type": "quantitative", "scale": {"domain": [3933.3, 4437.7], "nice": false, "zero": false}}}},
{"data": {"name": "crosses"}, "mark": {"type": "point", "shape": "cross", "filled": true, "color": "#1f2a8a", "size": 40, "opacity": 1},
 "encoding": {
  "x": {"field": "i", "type": "quantitative", "scale": {"domain": [-1.116, 234.2], "nice": false, "zero": false}},
  "y": {"field": "p", "type": "quantitative", "scale": {"domain": [3933.3, 4437.7], "nice": false, "zero": false}}
 }},
{"data": {"name": "badges"}, "transform": [{"filter": "datum.name == 'ma50'"}], "mark": {"type": "rect", "color": "#0f8a16", "yOffset": -8.5, "y2Offset": 8.5},
 "encoding": {
  "x": {"datum": 234.35, "type": "quantitative", "scale": {"domain": [-1.116, 234.2], "nice": false, "zero": false}},
  "x2": {"datum": 242.47},
  "y": {"field": "p", "type": "quantitative", "scale": {"domain": [3933.3, 4437.7], "nice": false, "zero": false}},
  "y2": {"field": "p"}
 }},
{"data": {"name": "badges"}, "transform": [{"filter": "datum.name == 'last'"}], "mark": {"type": "rect", "color": "#ee1c1c", "yOffset": -2.5, "y2Offset": 14.5},
 "encoding": {
  "x": {"datum": 234.35, "type": "quantitative", "scale": {"domain": [-1.116, 234.2], "nice": false, "zero": false}},
  "x2": {"datum": 242.47},
  "y": {"field": "p", "type": "quantitative", "scale": {"domain": [3933.3, 4437.7], "nice": false, "zero": false}},
  "y2": {"field": "p"}
 }},
{"data": {"name": "badges"}, "transform": [{"filter": "datum.name == 'ma20'"}], "mark": {"type": "rect", "color": "#4a7fe3", "yOffset": 12.5, "y2Offset": 29.5},
 "encoding": {
  "x": {"datum": 234.35, "type": "quantitative", "scale": {"domain": [-1.116, 234.2], "nice": false, "zero": false}},
  "x2": {"datum": 242.47},
  "y": {"field": "p", "type": "quantitative", "scale": {"domain": [3933.3, 4437.7], "nice": false, "zero": false}},
  "y2": {"field": "p"}
 }},
{"data": {"name": "badges"}, "transform": [{"filter": "datum.name == 'ma50'"}], "mark": {"type": "text", "color": "white", "font": "Liberation Sans", "fontSize": 12, "fontWeight": "bold", "align": "center", "baseline": "middle", "dy": 0},
 "encoding": {
  "x": {"datum": 238.41, "type": "quantitative", "scale": {"domain": [-1.116, 234.2], "nice": false, "zero": false}},
  "y": {"field": "p", "type": "quantitative", "scale": {"domain": [3933.3, 4437.7], "nice": false, "zero": false}},
  "text": {"field": "p", "type": "quantitative", "format": ".2f"}
 }},
{"data": {"name": "badges"}, "transform": [{"filter": "datum.name == 'last'"}], "mark": {"type": "text", "color": "white", "font": "Liberation Sans", "fontSize": 12, "fontWeight": "bold", "align": "center", "baseline": "middle", "dy": 6},
 "encoding": {
  "x": {"datum": 238.41, "type": "quantitative", "scale": {"domain": [-1.116, 234.2], "nice": false, "zero": false}},
  "y": {"field": "p", "type": "quantitative", "scale": {"domain": [3933.3, 4437.7], "nice": false, "zero": false}},
  "text": {"field": "p", "type": "quantitative", "format": ".2f"}
 }},
{"data": {"name": "badges"}, "transform": [{"filter": "datum.name == 'ma20'"}], "mark": {"type": "text", "color": "white", "font": "Liberation Sans", "fontSize": 12, "fontWeight": "bold", "align": "center", "baseline": "middle", "dy": 21},
 "encoding": {
  "x": {"datum": 238.41, "type": "quantitative", "scale": {"domain": [-1.116, 234.2], "nice": false, "zero": false}},
  "y": {"field": "p", "type": "quantitative", "scale": {"domain": [3933.3, 4437.7], "nice": false, "zero": false}},
  "text": {"field": "p", "type": "quantitative", "format": ".2f"}
 }},
{"data": {"name": "one"}, "mark": {"type": "text", "text": "MA Cross (20, 50)", "font": "Liberation Sans", "fontSize": 11.5, "color": "#333333", "align": "left", "baseline": "middle"},
 "encoding": {"x": {"datum": 1.33, "type": "quantitative", "scale": {"domain": [-1.116, 234.2], "nice": false, "zero": false}}, "y": {"datum": 4420.1, "type": "quantitative", "scale": {"domain": [3933.3, 4437.7], "nice": false, "zero": false}}}},
{"data": {"name": "one"}, "mark": {"type": "point", "shape": "square", "filled": true, "color": "#111111", "size": 900, "opacity": 1},
 "encoding": {"x": {"datum": 3.0, "type": "quantitative", "scale": {"domain": [-1.116, 234.2], "nice": false, "zero": false}}, "y": {"datum": 3961.5, "type": "quantitative", "scale": {"domain": [3933.3, 4437.7], "nice": false, "zero": false}}}},
{"data": {"name": "one"}, "mark": {"type": "text", "text": "m", "font": "Roboto", "fontSize": 25, "fontWeight": "bold", "color": "white", "align": "center", "baseline": "middle", "dy": -1},
 "encoding": {"x": {"datum": 3.0, "type": "quantitative", "scale": {"domain": [-1.116, 234.2], "nice": false, "zero": false}}, "y": {"datum": 3961.5, "type": "quantitative", "scale": {"domain": [3933.3, 4437.7], "nice": false, "zero": false}}}},
{"data": {"name": "one"}, "mark": {"type": "text", "text": "MTF", "font": "Roboto", "fontSize": 24, "fontWeight": 900, "color": "#111111", "align": "left", "baseline": "middle"},
 "encoding": {"x": {"datum": 7.0, "type": "quantitative", "scale": {"domain": [-1.116, 234.2], "nice": false, "zero": false}}, "y": {"datum": 3961.5, "type": "quantitative", "scale": {"domain": [3933.3, 4437.7], "nice": false, "zero": false}}}},
{"data": {"name": "one"}, "mark": {"type": "text", "text": "明德", "font": "Noto Sans CJK SC", "fontSize": 25, "fontWeight": "bold", "color": "#111111", "align": "left", "baseline": "middle"},
 "encoding": {"x": {"datum": 16.6, "type": "quantitative", "scale": {"domain": [-1.116, 234.2], "nice": false, "zero": false}}, "y": {"datum": 3961.5, "type": "quantitative", "scale": {"domain": [3933.3, 4437.7], "nice": false, "zero": false}}}}
]
},
{
"width": 1539, "height": 124,
"layer": [
{"data": {"values": [{"lo": 30, "hi": 70}]}, "mark": {"type": "rect", "color": "#f3e6f4", "opacity": 1},
 "encoding": {
  "x": {"datum": -1.116, "type": "quantitative", "scale": {"domain": [-1.116, 234.2], "nice": false, "zero": false}, "axis": {"values": [0.55, 23.9, 47.2, 70.2, 93.5, 116.0, 134.9, 157.9, 180.9, 203.9, 226.9], "labelExpr": "datum.value < 10 ? '13' : datum.value < 30 ? '16' : datum.value < 55 ? '17' : datum.value < 80 ? '18' : datum.value < 100 ? '19' : datum.value < 125 ? '20' : datum.value < 145 ? '23' : datum.value < 170 ? '24' : datum.value < 190 ? '25' : datum.value < 215 ? '26' : '27'", "title": null, "tickSize": 5, "labelFontSize": 12, "labelFontWeight": "bold", "labelColor": "#555555", "domainColor": "#999999", "domainWidth": 2, "labelPadding": 3}},
  "x2": {"datum": 234.2},
  "y": {"field": "lo", "type": "quantitative", "scale": {"domain": [5.25, 94.2], "nice": false, "zero": false}, "axis": {"orient": "right", "values": [25, 50, 75], "format": ".4f", "title": null}},
  "y2": {"field": "hi"}
 }},
{"data": {"values": [{"lvl": 70}, {"lvl": 30}]}, "mark": {"type": "rule", "strokeDash": [5, 4], "color": "#9e9e9e", "strokeWidth": 1.2},
 "encoding": {"y": {"field": "lvl", "type": "quantitative", "scale": {"domain": [5.25, 94.2], "nice": false, "zero": false}, "axis": {"orient": "right", "values": [25, 50, 75], "format": ".4f", "title": null}}}},
{"data": {"name": "rsi"}, "mark": {"type": "line", "color": "#a04ca6", "strokeWidth": 1.6},
 "encoding": {
  "x": {"field": "i", "type": "quantitative", "scale": {"domain": [-1.116, 234.2], "nice": false, "zero": false}, "axis": {"values": [0.55, 23.9, 47.2, 70.2, 93.5, 116.0, 134.9, 157.9, 180.9, 203.9, 226.9], "labelExpr": "datum.value < 10 ? '13' : datum.value < 30 ? '16' : datum.value < 55 ? '17' : datum.value < 80 ? '18' : datum.value < 100 ? '19' : datum.value < 125 ? '20' : datum.value < 145 ? '23' : datum.value < 170 ? '24' : datum.value < 190 ? '25' : datum.value < 215 ? '26' : '27'", "title": null, "tickSize": 5, "labelFontSize": 12, "labelFontWeight": "bold", "labelColor": "#555555", "domainColor": "#999999", "domainWidth": 2, "labelPadding": 3}},
  "y": {"field": "r", "type": "quantitative", "scale": {"domain": [5.25, 94.2], "nice": false, "zero": false}, "axis": {"orient": "right", "values": [25, 50, 75], "format": ".4f", "title": null}}
 }},
{"data": {"values": [{"r": 44.1109}]}, "mark": {"type": "rect", "color": "#7e0a80", "yOffset": -8.5, "y2Offset": 8.5},
 "encoding": {
  "x": {"datum": 234.2, "type": "quantitative", "scale": {"domain": [-1.116, 234.2], "nice": false, "zero": false}},
  "x2": {"datum": 242.6},
  "y": {"field": "r", "type": "quantitative", "scale": {"domain": [5.25, 94.2], "nice": false, "zero": false}},
  "y2": {"field": "r"}
 }},
{"data": {"values": [{"r": 44.1109}]}, "mark": {"type": "text", "color": "white", "font": "Liberation Sans", "fontSize": 12, "align": "center", "baseline": "middle"},
 "encoding": {
  "x": {"datum": 238.4, "type": "quantitative", "scale": {"domain": [-1.116, 234.2], "nice": false, "zero": false}},
  "y": {"field": "r", "type": "quantitative", "scale": {"domain": [5.25, 94.2], "nice": false, "zero": false}},
  "text": {"field": "r", "type": "quantitative", "format": ".4f"}
 }},
{"data": {"values": [{"t": "RSI (9)"}]}, "mark": {"type": "text", "font": "Liberation Sans", "fontSize": 11.5, "color": "#333333", "align": "left", "baseline": "middle"},
 "encoding": {"x": {"datum": 1.18, "type": "quantitative", "scale": {"domain": [-1.116, 234.2], "nice": false, "zero": false}}, "y": {"datum": 82.5, "type": "quantitative", "scale": {"domain": [5.25, 94.2], "nice": false, "zero": false}}, "text": {"field": "t"}}}
]
}
]
}
